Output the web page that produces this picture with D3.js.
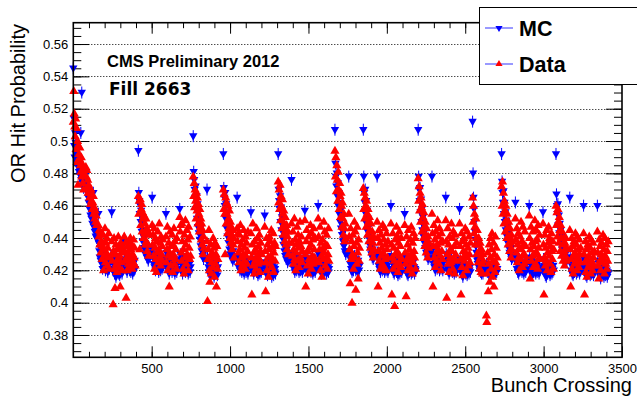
<!DOCTYPE html>
<html>
<head>
<meta charset="utf-8">
<script src="https://cdn.jsdelivr.net/npm/d3@7"></script>
<style>
  body { margin: 0; background: #fff; }
  svg { display: block; }
  text { font-family: "Liberation Sans", Arial, sans-serif; fill: #000; }
</style>
</head>
<body>
<svg id="chart" width="637" height="398"></svg>
<script>
// bunch crossing of the first bunch of each train
var trainStart = [0, 80, 160, 245, 325, 415, 503, 591, 679, 765, 853, 957, 1045, 1133, 1221,
  1307, 1392, 1477, 1562, 1669, 1757, 1850, 1938, 2026, 2114, 2200, 2288, 2376, 2464,
  2547, 2635, 2732, 2820, 2908, 2996, 3079, 3167, 3255, 3343];
// one value read every 3 bunch crossings inside a train
var sampleStep = 3;

// Data: OR hit probability x1000, one row per train
var dataProb = [
  [512, 531, 517, 509, 503, 514, 495, 508, 487, 500, 473, 497, 492, 489, 496, 485, 481, 490, 478, 486, 474, 482, 470, 479],
  [484, 478, 482, 471, 476, 468, 473, 470, 465, 468, 461, 470, 463, 466, 458, 462, 466, 455, 459, 452, 457, 450, 454, 448],
  [448, 441, 445, 436, 444, 431, 438, 442, 427, 435, 442, 420, 433, 429, 446, 425, 437, 431, 440, 423, 434, 428, 443, 421],
  [438, 426, 430, 399, 432, 440, 421, 409, 430, 436, 424, 419, 433, 427, 441, 422, 435, 429, 410, 437, 425, 431, 420, 434],
  [441, 432, 426, 437, 403, 428, 420, 435, 431, 424, 438, 429, 422, 440, 433, 427, 436, 421, 430, 425, 439, 428, 434, 423],
  [466, 455, 463, 433, 464, 448, 458, 461, 444, 456, 452, 440, 454, 443, 449, 436, 452, 438, 446, 432, 436, 444, 429, 442],
  [448, 436, 442, 429, 446, 421, 434, 440, 427, 419, 438, 431, 444, 425, 433, 449, 428, 437, 423, 441, 430, 435, 426, 439],
  [441, 425, 433, 447, 420, 429, 437, 410, 431, 444, 423, 435, 428, 442, 419, 436, 430, 446, 424, 438, 427, 433, 421, 440],
  [453, 444, 448, 431, 426, 449, 438, 421, 433, 418, 442, 428, 451, 436, 424, 445, 430, 439, 420, 447, 434, 427, 441, 429],
  [478, 466, 474, 459, 470, 463, 452, 468, 457, 465, 449, 461, 455, 444, 458, 447, 452, 439, 449, 436, 445, 430, 441, 434],
  [438, 401, 427, 433, 445, 420, 413, 429, 436, 418, 425, 431, 422, 440, 428, 434, 416, 437, 424, 430, 410, 435, 421, 427],
  [470, 458, 467, 455, 430, 465, 449, 462, 455, 443, 460, 452, 446, 457, 440, 450, 437, 447, 442, 433, 445, 436, 440, 428],
  [446, 438, 443, 431, 425, 442, 433, 448, 420, 436, 428, 423, 439, 430, 445, 426, 434, 421, 441, 429, 437, 424, 432, 444],
  [443, 428, 405, 436, 449, 423, 431, 418, 438, 426, 433, 421, 446, 429, 440, 424, 435, 427, 442, 419, 432, 437, 425, 430],
  [447, 432, 407, 425, 440, 420, 436, 428, 416, 433, 441, 424, 438, 429, 445, 422, 434, 427, 443, 419, 431, 437, 426, 435],
  [475, 462, 470, 458, 473, 451, 466, 460, 446, 464, 455, 442, 457, 449, 438, 453, 445, 436, 448, 433, 441, 444, 430, 437],
  [449, 437, 429, 444, 424, 433, 452, 427, 439, 420, 431, 436, 447, 426, 442, 434, 422, 438, 450, 428, 435, 441, 425, 432],
  [451, 430, 410, 438, 445, 423, 432, 418, 441, 427, 434, 425, 448, 436, 421, 443, 429, 439, 424, 446, 433, 428, 440, 426],
  [452, 441, 425, 433, 447, 420, 437, 429, 416, 439, 427, 434, 450, 431, 444, 423, 436, 428, 442, 421, 435, 430, 446, 426],
  [494, 478, 490, 469, 485, 476, 463, 481, 470, 458, 474, 466, 453, 468, 460, 447, 462, 452, 442, 455, 446, 438, 449, 440],
  [455, 441, 433, 412, 446, 427, 438, 400, 430, 442, 421, 435, 450, 428, 444, 408, 437, 424, 447, 431, 415, 439, 426, 434],
  [471, 458, 468, 452, 465, 460, 447, 463, 455, 442, 458, 450, 438, 453, 445, 434, 449, 440, 431, 444, 437, 428, 441, 433],
  [450, 440, 410, 432, 445, 426, 437, 421, 442, 429, 434, 424, 448, 431, 439, 422, 446, 427, 436, 420, 443, 433, 428, 438],
  [449, 436, 405, 428, 443, 421, 434, 426, 398, 439, 430, 423, 447, 432, 441, 419, 437, 425, 444, 429, 435, 422, 440, 427],
  [448, 431, 424, 404, 441, 427, 436, 420, 445, 429, 433, 422, 439, 426, 447, 430, 418, 437, 425, 443, 432, 428, 440, 421],
  [477, 463, 472, 457, 468, 450, 465, 459, 444, 461, 453, 440, 456, 447, 435, 450, 442, 431, 446, 438, 428, 441, 434, 437],
  [455, 443, 410, 435, 448, 428, 439, 422, 444, 431, 426, 436, 451, 433, 441, 424, 446, 429, 437, 420, 443, 432, 427, 438],
  [451, 438, 403, 430, 446, 424, 436, 419, 441, 428, 433, 425, 449, 432, 440, 421, 444, 427, 435, 418, 442, 430, 426, 437],
  [449, 435, 427, 405, 443, 422, 438, 417, 432, 440, 426, 429, 446, 431, 436, 420, 444, 428, 434, 423, 441, 430, 425, 437],
  [465, 450, 460, 443, 455, 447, 436, 452, 440, 430, 445, 436, 425, 440, 432, 421, 437, 428, 419, 433, 424, 418, 430, 426],
  [392, 388, 418, 431, 407, 424, 436, 413, 428, 440, 421, 433, 443, 416, 426, 437, 410, 430, 419, 441, 425, 434, 422, 428],
  [472, 460, 475, 455, 468, 449, 463, 457, 444, 460, 451, 440, 455, 446, 436, 450, 441, 432, 446, 437, 428, 442, 433, 438],
  [452, 439, 431, 446, 425, 436, 443, 428, 420, 434, 441, 427, 450, 433, 438, 422, 447, 430, 436, 424, 444, 429, 435, 426],
  [454, 440, 415, 433, 447, 426, 437, 429, 444, 422, 435, 430, 451, 438, 424, 445, 431, 439, 421, 448, 434, 428, 442, 427],
  [449, 436, 405, 428, 442, 423, 434, 426, 445, 420, 431, 437, 447, 429, 440, 424, 435, 419, 443, 432, 427, 438, 421, 433],
  [460, 448, 456, 441, 458, 450, 437, 453, 445, 432, 448, 440, 429, 444, 436, 426, 440, 432, 423, 437, 429, 440, 426, 434],
  [445, 433, 410, 427, 440, 421, 435, 418, 429, 438, 424, 431, 443, 426, 436, 420, 441, 428, 433, 422, 439, 430, 425, 434],
  [443, 430, 405, 425, 438, 419, 433, 416, 427, 436, 422, 429, 441, 424, 434, 418, 439, 426, 431, 420, 437, 428, 423, 432],
  [444, 431, 423, 415, 439, 426, 435, 420, 430, 437, 425, 428, 442, 427, 433, 418, 440, 429, 424, 436, 421, 432, 426, 438]
];

// MC: OR hit probability x1000, one row per train
var mcProb = [
  [545, 514, 497, 490, 505, 499, 492, 496, 486, 490, 484, 488, 481, 485, 479, 483, 505, 476, 530, 480, 474, 477, 471, 475],
  [470, 480, 474, 471, 468, 465, 462, 466, 458, 461, 454, 457, 452, 455, 449, 452, 468, 447, 450, 444, 447, 441, 445, 440],
  [455, 437, 432, 428, 434, 426, 430, 424, 428, 421, 425, 427, 431, 423, 426, 420, 424, 428, 422, 425, 419, 423, 427, 421],
  [456, 428, 425, 420, 431, 423, 418, 426, 422, 416, 429, 424, 420, 427, 418, 423, 421, 417, 425, 419, 422, 426, 418, 424],
  [438, 427, 423, 430, 421, 426, 419, 425, 428, 422, 424, 420, 426, 423, 419, 427, 421, 425, 418, 424, 422, 420, 426, 421],
  [494, 468, 463, 455, 460, 450, 457, 444, 449, 438, 445, 441, 434, 440, 437, 430, 436, 433, 428, 434, 430, 426, 429, 431],
  [465, 433, 428, 424, 430, 422, 426, 420, 427, 423, 425, 421, 429, 424, 419, 426, 422, 428, 420, 425, 423, 421, 427, 422],
  [455, 431, 426, 422, 428, 420, 425, 418, 424, 427, 421, 426, 423, 419, 428, 422, 425, 420, 424, 418, 426, 421, 423, 419],
  [458, 430, 427, 424, 421, 429, 418, 425, 422, 427, 420, 424, 419, 426, 422, 428, 420, 423, 418, 425, 421, 424, 419, 422],
  [503, 481, 476, 470, 465, 472, 458, 466, 452, 461, 447, 456, 443, 450, 439, 446, 435, 441, 432, 437, 429, 434, 427, 431],
  [470, 428, 425, 422, 419, 424, 420, 417, 423, 421, 418, 422, 425, 419, 421, 416, 423, 420, 418, 424, 419, 421, 417, 422],
  [492, 471, 465, 460, 468, 452, 461, 446, 455, 441, 450, 437, 446, 433, 441, 430, 438, 428, 435, 431, 426, 432, 429, 427],
  [465, 429, 426, 422, 428, 424, 420, 425, 421, 423, 419, 424, 427, 420, 422, 418, 425, 421, 423, 419, 426, 420, 422, 418],
  [456, 427, 424, 420, 426, 422, 418, 424, 420, 425, 421, 423, 419, 426, 422, 417, 424, 420, 423, 418, 425, 421, 419, 422],
  [454, 425, 421, 418, 424, 420, 417, 423, 419, 422, 418, 421, 424, 419, 421, 416, 423, 418, 420, 417, 422, 419, 421, 418],
  [492, 470, 463, 458, 466, 450, 459, 445, 453, 440, 448, 436, 444, 432, 440, 429, 436, 427, 433, 430, 425, 431, 428, 426],
  [476, 430, 427, 424, 429, 421, 425, 419, 426, 422, 424, 420, 428, 423, 421, 426, 419, 424, 422, 420, 425, 421, 423, 419],
  [457, 428, 424, 421, 427, 423, 419, 425, 420, 424, 422, 421, 426, 419, 423, 420, 425, 418, 422, 424, 420, 423, 419, 421],
  [460, 430, 426, 422, 428, 420, 425, 418, 423, 421, 424, 420, 427, 422, 419, 425, 421, 423, 418, 424, 420, 422, 419, 421],
  [507, 486, 478, 472, 480, 466, 474, 460, 468, 455, 462, 450, 457, 446, 452, 442, 448, 438, 444, 435, 440, 432, 437, 430],
  [478, 432, 428, 424, 430, 421, 426, 419, 424, 427, 420, 423, 429, 422, 425, 420, 427, 421, 424, 419, 426, 422, 420, 423],
  [507, 478, 468, 462, 470, 455, 463, 449, 457, 444, 452, 440, 447, 436, 443, 433, 439, 430, 436, 428, 433, 427, 430, 429],
  [478, 431, 427, 423, 429, 421, 426, 419, 424, 422, 425, 420, 428, 423, 421, 426, 419, 424, 422, 420, 425, 421, 423, 419],
  [460, 429, 425, 421, 427, 419, 424, 418, 422, 426, 420, 423, 419, 425, 421, 417, 424, 420, 423, 418, 422, 420, 424, 419],
  [455, 428, 424, 420, 426, 418, 423, 417, 421, 425, 419, 422, 424, 420, 418, 423, 421, 419, 425, 420, 422, 418, 421, 420],
  [507, 478, 470, 463, 471, 456, 464, 450, 458, 445, 453, 441, 448, 437, 444, 434, 440, 431, 437, 429, 434, 427, 431, 428],
  [478, 433, 428, 424, 430, 422, 427, 420, 425, 423, 426, 421, 429, 424, 422, 427, 420, 425, 423, 421, 426, 422, 424, 420],
  [465, 430, 426, 422, 428, 420, 425, 418, 423, 421, 424, 420, 427, 422, 419, 425, 421, 423, 418, 424, 420, 422, 419, 421],
  [458, 427, 423, 419, 425, 418, 422, 416, 420, 424, 419, 421, 423, 418, 420, 422, 417, 421, 419, 423, 418, 420, 422, 419],
  [512, 480, 465, 458, 450, 444, 439, 435, 431, 428, 426, 424, 427, 422, 425, 420, 423, 419, 422, 418, 421, 420, 418, 420],
  [424, 421, 419, 423, 420, 418, 422, 419, 421, 417, 420, 418, 422, 419, 421, 418, 420, 422, 419, 421, 418, 420, 419, 421],
  [492, 475, 468, 462, 469, 455, 462, 450, 456, 445, 451, 441, 447, 437, 443, 434, 440, 431, 437, 429, 434, 427, 431, 428],
  [462, 429, 425, 421, 427, 419, 424, 418, 422, 426, 420, 423, 425, 421, 419, 424, 420, 422, 418, 425, 421, 423, 419, 421],
  [460, 428, 424, 420, 426, 418, 423, 417, 421, 425, 419, 422, 424, 420, 418, 423, 421, 419, 425, 420, 422, 418, 421, 420],
  [456, 427, 423, 419, 425, 417, 422, 416, 420, 424, 418, 421, 423, 419, 421, 417, 424, 420, 422, 418, 421, 419, 423, 420],
  [492, 467, 460, 455, 461, 448, 454, 443, 449, 439, 445, 436, 441, 433, 438, 430, 435, 428, 432, 426, 430, 425, 428, 426],
  [465, 428, 424, 420, 426, 418, 423, 417, 421, 425, 419, 422, 424, 420, 418, 423, 421, 419, 425, 420, 422, 418, 421, 420],
  [460, 427, 423, 419, 425, 417, 422, 416, 420, 424, 418, 421, 423, 419, 417, 422, 420, 418, 424, 419, 421, 417, 420, 419],
  [460, 426, 422, 418, 424, 417, 421, 415, 419, 423, 418, 420, 422, 418, 416, 421, 419, 417, 423, 418, 420, 416, 419, 418]
];

var xMajor = [500, 1000, 1500, 2000, 2500, 3000, 3500];
var yMajor = [0.38, 0.40, 0.42, 0.44, 0.46, 0.48, 0.50, 0.52, 0.54, 0.56];
var seriesNames = ["MC", "Data"];

var svg = d3.select("#chart");

var x = d3.scaleLinear().domain([0, 3500]).range([73.3, 622]);
var y = d3.scaleLinear().domain([0.3662, 0.5732]).range([357.3, 22.7]);

function toPoints(rows) {
  var pts = [];
  rows.forEach(function(vals, i) {
    vals.forEach(function(v, j) {
      pts.push({bx: trainStart[i] + j * sampleStep, p: v / 1000});
    });
  });
  return pts;
}
var dataPts = toPoints(dataProb);
var mcPts = toPoints(mcProb);

// horizontal dotted grid
svg.append("g").selectAll("line")
  .data(yMajor)
  .enter().append("line")
  .attr("x1", x(0)).attr("x2", x(3500))
  .attr("y1", function(d) { return Math.round(y(d)) + 0.5; })
  .attr("y2", function(d) { return Math.round(y(d)) + 0.5; })
  .attr("stroke", "#000").attr("stroke-width", 1)
  .attr("stroke-dasharray", "1,2");

// axes, ticks pointing inside like ROOT
function clean(g) { g.select(".domain").remove(); g.selectAll("line").attr("stroke", "#000"); }
function tickFont(g) { g.selectAll("text").attr("font-size", 13).style("font-family", "'Liberation Sans', Arial, sans-serif"); }

var xMinorTicks = d3.range(100, 3500, 100);
var yMinorTicks = d3.range(0.37, 0.5701, 0.005);

svg.append("g").attr("transform", "translate(0," + y.range()[0] + ")")
  .call(d3.axisBottom(x).tickValues(xMinorTicks).tickSize(-5.5).tickFormat(""))
  .call(clean);
svg.append("g").attr("transform", "translate(0," + y.range()[0] + ")")
  .call(d3.axisBottom(x).tickValues(xMajor).tickSize(-11).tickPadding(6).tickFormat(d3.format("d")))
  .call(clean).call(tickFont);
svg.append("g").attr("transform", "translate(0," + y.range()[1] + ")")
  .call(d3.axisTop(x).tickValues(xMinorTicks).tickSize(-5.5).tickFormat(""))
  .call(clean);
svg.append("g").attr("transform", "translate(0," + y.range()[1] + ")")
  .call(d3.axisTop(x).tickValues(xMajor).tickSize(-11).tickFormat(""))
  .call(clean);

svg.append("g").attr("transform", "translate(" + x.range()[0] + ",0)")
  .call(d3.axisLeft(y).tickValues(yMinorTicks).tickSize(-8).tickFormat(""))
  .call(clean);
svg.append("g").attr("transform", "translate(" + x.range()[0] + ",0)")
  .call(d3.axisLeft(y).tickValues(yMajor).tickSize(-16).tickPadding(5).tickFormat(d3.format("~g")))
  .call(clean).call(tickFont);
svg.append("g").attr("transform", "translate(" + x.range()[1] + ",0)")
  .call(d3.axisRight(y).tickValues(yMinorTicks).tickSize(-8).tickFormat(""))
  .call(clean);
svg.append("g").attr("transform", "translate(" + x.range()[1] + ",0)")
  .call(d3.axisRight(y).tickValues(yMajor).tickSize(-16).tickFormat(""))
  .call(clean);

// markers: ROOT style 22 (up) and 23 (down)
var upTri = "M0,-5L4.6,3L-4.6,3Z";
var downTri = "M0,4.5L4.2,-2.8L-4.2,-2.8Z";

var mc = svg.append("g");
mc.selectAll("line")
  .data(mcPts)
  .enter().append("line")
  .attr("x1", function(d) { return x(d.bx); }).attr("x2", function(d) { return x(d.bx); })
  .attr("y1", function(d) { return y(d.p) - 6; }).attr("y2", function(d) { return y(d.p) + 6; })
  .attr("stroke", "#0000ff").attr("stroke-width", 1);
mc.selectAll("path")
  .data(mcPts)
  .enter().append("path")
  .attr("d", downTri)
  .attr("transform", function(d) { return "translate(" + x(d.bx) + "," + y(d.p) + ")"; })
  .attr("fill", "#0000ff");

svg.append("g").selectAll("path")
  .data(dataPts)
  .enter().append("path")
  .attr("d", upTri)
  .attr("transform", function(d) { return "translate(" + x(d.bx) + "," + y(d.p) + ")"; })
  .attr("fill", "#ff0000");

// frame
svg.append("rect")
  .attr("x", x.range()[0]).attr("y", y.range()[1])
  .attr("width", x.range()[1] - x.range()[0]).attr("height", y.range()[0] - y.range()[1])
  .attr("fill", "none").attr("stroke", "#000").attr("stroke-width", 1.6);

// titles
svg.append("text")
  .attr("transform", "translate(25,24) rotate(-90)")
  .attr("text-anchor", "end")
  .attr("font-size", 20)
  .text("OR Hit Probability");
svg.append("text")
  .attr("x", 632).attr("y", 392)
  .attr("text-anchor", "end")
  .attr("font-size", 20)
  .text("Bunch Crossing");

svg.append("text")
  .attr("x", 107).attr("y", 67)
  .attr("font-size", 16.5).attr("font-weight", "bold")
  .text("CMS Preliminary 2012");
svg.append("text")
  .attr("x", 109).attr("y", 95)
  .attr("font-size", 17).attr("font-weight", "bold")
  .style("font-family", "'DejaVu Sans', sans-serif")
  .text("Fill 2663");

// legend
var legend = svg.append("g");
legend.append("rect")
  .attr("x", 479.5).attr("y", 7.5).attr("width", 170).attr("height", 77)
  .attr("fill", "#fff").attr("stroke", "#000").attr("stroke-width", 1);
var legY = [28, 64];
var legColor = ["#0000ff", "#ff0000"];
seriesNames.forEach(function(name, i) {
  legend.append("line")
    .attr("x1", 485).attr("x2", 513).attr("y1", legY[i]).attr("y2", legY[i])
    .attr("stroke", "#7777ff").attr("stroke-width", 1.5);
  legend.append("path")
    .attr("d", d3.symbol().type(d3.symbolTriangle).size(22))
    .attr("transform", "translate(499," + legY[i] + ")" + (i === 0 ? " rotate(180)" : ""))
    .attr("fill", legColor[i]);
  legend.append("text")
    .attr("x", 519).attr("y", legY[i] + 8)
    .attr("font-size", 21.5).attr("font-weight", "bold")
    .text(name);
});
</script>
</body>
</html>
